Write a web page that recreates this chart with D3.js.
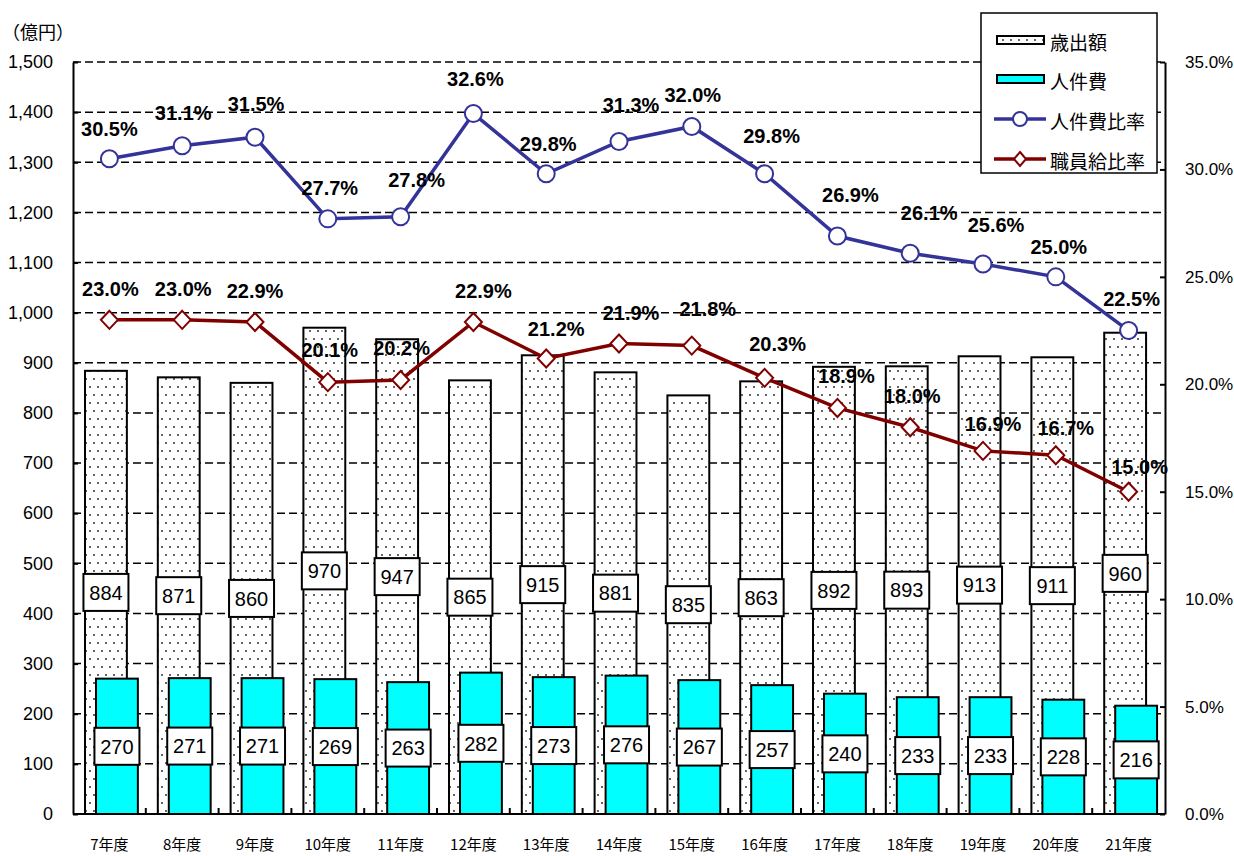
<!DOCTYPE html>
<meta charset="utf-8">
<style>
body { margin: 0; background: #fff; }
text { font-family: "Liberation Sans", Arial, sans-serif; fill: #000; }
.jp { font-family: "Noto Sans CJK JP", sans-serif; }
</style>
<body>
<script src="https://d3js.org/d3.v7.min.js"></script>
<script>

// data
var years = ["7年度", "8年度", "9年度", "10年度", "11年度", "12年度", "13年度", "14年度",
             "15年度", "16年度", "17年度", "18年度", "19年度", "20年度", "21年度"];
var expenditure = [884, 871, 860, 970, 947, 865, 915, 881, 835, 863, 892, 893, 913, 911, 960];
var personnel = [270, 271, 271, 269, 263, 282, 273, 276, 267, 257, 240, 233, 233, 228, 216];
var personnelRatio = [30.5, 31.1, 31.5, 27.7, 27.8, 32.6, 29.8, 31.3, 32.0, 29.8, 26.9, 26.1, 25.6, 25.0, 22.5];
var salaryRatio = [23.0, 23.0, 22.9, 20.1, 20.2, 22.9, 21.2, 21.9, 21.8, 20.3, 18.9, 18.0, 16.9, 16.7, 15.0];
var leftTicks = d3.range(0, 1501, 100);
var rightTicks = d3.range(0, 36, 5);
var legendNames = ["歳出額", "人件費", "人件費比率", "職員給比率"];

// hand-placed label nudges [dx, dy] as in the original
var blueNudge = [[0,-30],[1,-33],[1,-33],[2,-31],[16,-37],[2,-35],[2,-30],[12,-37],
                 [1,-32],[7,-38],[13,-41],[19,-40],[13,-39],[3,-30],[3,-32]];
var redNudge = [[1,-31],[1,-31],[0,-31],[2,-32],[1,-32],[10,-31],[10,-30],[12,-31],
                [16,-37],[13,-34],[9,-32],[2,-31],[10,-27],[10,-27],[11,-25]];

var width = 1234, height = 856;
var plotL = 73, plotR = 1165, plotT = 62, plotB = 814;

var svg = d3.select("body").append("svg")
    .attr("width", width)
    .attr("height", height);

var x = d3.scaleBand().domain(years).range([plotL, plotR]);
var y = d3.scaleLinear().domain([0, 1500]).range([plotB, plotT]);
var y2 = d3.scaleLinear().domain([0, 35]).range([plotB, plotT]);
var bw = x.bandwidth();
var cx = function(c) { return x(c) + bw / 2; };

// dotted fill
var pat = svg.append("defs").append("pattern")
    .attr("id", "dots")
    .attr("patternUnits", "userSpaceOnUse")
    .attr("width", 8).attr("height", 16);
pat.append("rect").attr("width", 8).attr("height", 16).attr("fill", "#fff");
pat.append("circle").attr("cx", 2).attr("cy", 3).attr("r", 1).attr("fill", "#333");
pat.append("circle").attr("cx", 6).attr("cy", 11).attr("r", 1).attr("fill", "#333");

// grid
svg.append("g").selectAll("line")
  .data(leftTicks.filter(function(d) { return d > 0; }))
  .enter().append("line")
    .attr("x1", plotL).attr("x2", plotR)
    .attr("y1", function(d) { return y(d); })
    .attr("y2", function(d) { return y(d); })
    .attr("stroke", "#000")
    .attr("stroke-width", 1.5)
    .attr("stroke-dasharray", "8,4");

var barW = bw * 0.575;
var offA = bw * 0.165, offB = bw * 0.316;

// 歳出額
svg.append("g").selectAll("rect")
  .data(years)
  .enter().append("rect")
    .attr("x", function(d) { return x(d) + offA; })
    .attr("y", function(d, i) { return y(expenditure[i]); })
    .attr("width", barW)
    .attr("height", function(d, i) { return plotB - y(expenditure[i]); })
    .attr("fill", "url(#dots)")
    .attr("stroke", "#000")
    .attr("stroke-width", 2);

// 人件費
svg.append("g").selectAll("rect")
  .data(years)
  .enter().append("rect")
    .attr("x", function(d) { return x(d) + offB; })
    .attr("y", function(d, i) { return y(personnel[i]); })
    .attr("width", barW)
    .attr("height", function(d, i) { return plotB - y(personnel[i]); })
    .attr("fill", "#00ffff")
    .attr("stroke", "#000")
    .attr("stroke-width", 2);

function boxLabels(vals, off) {
  var g = svg.append("g").selectAll("g")
    .data(years)
    .enter().append("g")
      .attr("transform", function(d, i) {
        return "translate(" + (x(d) + off + barW / 2) + "," + y(vals[i] / 2) + ")";
      });
  g.append("rect")
    .attr("x", -22.5).attr("y", -18.5)
    .attr("width", 45).attr("height", 37)
    .attr("fill", "#fff")
    .attr("stroke", "#000")
    .attr("stroke-width", 2);
  g.append("text")
    .attr("text-anchor", "middle")
    .attr("dy", "0.36em")
    .style("font-size", "20px")
    .text(function(d, i) { return vals[i]; });
}
boxLabels(expenditure, offA);
boxLabels(personnel, offB);

// lines
function drawLine(vals, color) {
  var line = d3.line()
    .x(function(d, i) { return cx(years[i]); })
    .y(function(d) { return y2(d); });
  svg.append("path")
    .datum(vals)
    .attr("d", line)
    .attr("fill", "none")
    .attr("stroke", color)
    .attr("stroke-width", 3.5);
}
drawLine(personnelRatio, "#333399");
drawLine(salaryRatio, "#800000");

var diamond = "M0,-9L8.5,0L0,9L-8.5,0Z";

svg.append("g").selectAll("circle")
  .data(personnelRatio)
  .enter().append("circle")
    .attr("cx", function(d, i) { return cx(years[i]); })
    .attr("cy", function(d) { return y2(d); })
    .attr("r", 8.5)
    .attr("fill", "#fff")
    .attr("stroke", "#333399")
    .attr("stroke-width", 2);

svg.append("g").selectAll("path")
  .data(salaryRatio)
  .enter().append("path")
    .attr("d", diamond)
    .attr("transform", function(d, i) { return "translate(" + cx(years[i]) + "," + y2(d) + ")"; })
    .attr("fill", "#fff")
    .attr("stroke", "#800000")
    .attr("stroke-width", 2);

function ratioLabels(vals, nudge) {
  svg.append("g").selectAll("text")
    .data(vals)
    .enter().append("text")
      .attr("x", function(d, i) { return cx(years[i]) + nudge[i][0]; })
      .attr("y", function(d, i) { return y2(d) + nudge[i][1]; })
      .attr("dy", "0.36em")
      .attr("text-anchor", "middle")
      .style("font-size", "20px")
      .style("font-weight", "bold")
      .text(function(d) { return d.toFixed(1) + "%"; });
}
ratioLabels(personnelRatio, blueNudge);
ratioLabels(salaryRatio, redNudge);

// axes
var yAxis = svg.append("g")
    .attr("transform", "translate(" + plotL + ",0)")
    .call(d3.axisLeft(y).tickValues(leftTicks).tickFormat(d3.format(","))
      .tickSizeInner(-5).tickSizeOuter(0).tickPadding(20));
var y2Axis = svg.append("g")
    .attr("transform", "translate(" + plotR + ",0)")
    .call(d3.axisRight(y2).tickValues(rightTicks).tickFormat(function(d) { return d.toFixed(1) + "%"; })
      .tickSizeInner(-5).tickSizeOuter(0).tickPadding(20));
[yAxis, y2Axis].forEach(function(a) {
  a.select(".domain").attr("stroke", "#000").attr("stroke-width", 2);
  a.selectAll(".tick line").attr("stroke", "#000").attr("stroke-width", 2);
});
yAxis.selectAll(".tick text").style("font-size", "18px").attr("fill", "#000");
y2Axis.selectAll(".tick text").style("font-size", "17px").attr("fill", "#000");

svg.append("line")
    .attr("x1", plotL).attr("x2", plotR)
    .attr("y1", plotB).attr("y2", plotB)
    .attr("stroke", "#000").attr("stroke-width", 2);

svg.append("g").selectAll("line")
  .data(years.slice(1))
  .enter().append("line")
    .attr("x1", function(d) { return x(d); })
    .attr("x2", function(d) { return x(d); })
    .attr("y1", plotB).attr("y2", plotB - 6)
    .attr("stroke", "#000").attr("stroke-width", 2);

svg.append("g").selectAll("text")
  .data(years)
  .enter().append("text")
    .attr("class", "jp")
    .attr("x", function(d) { return cx(d); })
    .attr("y", 845)
    .attr("dy", "0.36em")
    .attr("text-anchor", "middle")
    .style("font-size", "15px")
    .text(function(d) { return d; });

svg.append("text")
    .attr("class", "jp")
    .attr("x", 2).attr("y", 33)
    .attr("dy", "0.36em")
    .style("font-size", "18px")
    .text("（億円）");

// legend
var lg = svg.append("g").attr("transform", "translate(981,13)");
lg.append("rect")
    .attr("width", 176).attr("height", 160)
    .attr("fill", "#fff")
    .attr("stroke", "#000")
    .attr("stroke-width", 1.5);
var rowY = [27, 66, 106, 146];
lg.append("rect").attr("x", 16).attr("y", rowY[0] - 4).attr("width", 47).attr("height", 8)
    .attr("fill", "url(#dots)").attr("stroke", "#000").attr("stroke-width", 2);
lg.append("rect").attr("x", 16).attr("y", rowY[1] - 4).attr("width", 47).attr("height", 8)
    .attr("fill", "#00ffff").attr("stroke", "#000").attr("stroke-width", 2);
lg.append("line").attr("x1", 13).attr("x2", 65).attr("y1", rowY[2]).attr("y2", rowY[2])
    .attr("stroke", "#333399").attr("stroke-width", 3.5);
lg.append("circle").attr("cx", 39).attr("cy", rowY[2]).attr("r", 7)
    .attr("fill", "#fff").attr("stroke", "#333399").attr("stroke-width", 2);
lg.append("line").attr("x1", 13).attr("x2", 65).attr("y1", rowY[3]).attr("y2", rowY[3])
    .attr("stroke", "#800000").attr("stroke-width", 3.5);
lg.append("path").attr("d", "M0,-7L6,0L0,7L-6,0Z")
    .attr("transform", "translate(39," + rowY[3] + ")")
    .attr("fill", "#fff").attr("stroke", "#800000").attr("stroke-width", 2);
lg.selectAll("text.name")
  .data(legendNames)
  .enter().append("text")
    .attr("class", "jp")
    .attr("x", 69)
    .attr("y", function(d, i) { return rowY[i] + 3; })
    .attr("dy", "0.36em")
    .style("font-size", "19px")
    .text(function(d) { return d; });

</script>
</body>
